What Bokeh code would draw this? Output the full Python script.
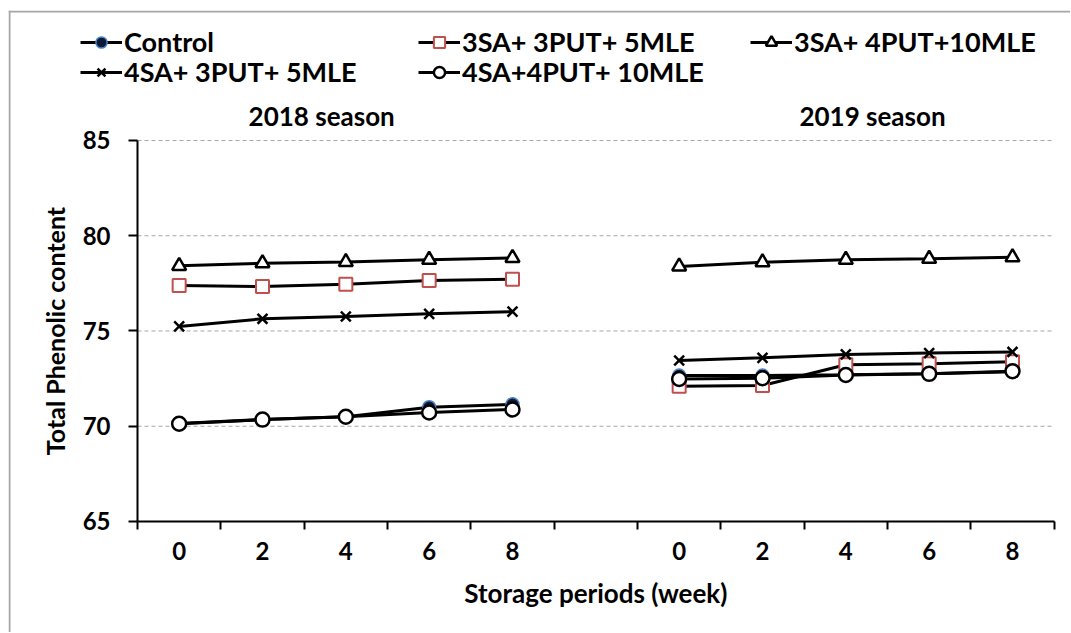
import math
from bokeh.plotting import figure
from bokeh.models import (FixedTicker, Legend, LegendItem, Label, Range1d, Span, ColumnDataSource)
from bokeh.embed import file_html
from bokeh.resources import INLINE

# ---------------- data ----------------
weeks = ["0", "2", "4", "6", "8"]
seasons = ["2018 season", "2019 season"]
series_names = ["Control", "3SA+ 3PUT+ 5MLE", "3SA+ 4PUT+10MLE",
                "4SA+ 3PUT+ 5MLE", "4SA+4PUT+ 10MLE"]

control_2018 = [70.15, 70.35, 70.50, 71.00, 71.15]
t1_2018 = [77.39, 77.33, 77.45, 77.65, 77.72]
t2_2018 = [78.42, 78.56, 78.62, 78.74, 78.84]
t3_2018 = [75.24, 75.64, 75.76, 75.90, 76.02]
t4_2018 = [70.13, 70.35, 70.50, 70.72, 70.88]

control_2019 = [72.66, 72.66, 72.70, 72.76, 72.86]
t1_2019 = [72.10, 72.14, 73.23, 73.28, 73.39]
t2_2019 = [78.39, 78.61, 78.74, 78.79, 78.87]
t3_2019 = [73.45, 73.59, 73.77, 73.84, 73.90]
t4_2019 = [72.48, 72.52, 72.69, 72.75, 72.89]

y_ticks = [65, 70, 75, 80, 85]

# ---------------- layout / style ----------------
FONT = "Lato"
n_slots = 2 * len(weeks) + 1
pos_2018 = [i + 0.5 for i in range(len(weeks))]
pos_2019 = [i + len(weeks) + 1.5 for i in range(len(weeks))]

X0, X1 = -1.548, 11.196
Y0, Y1 = 59.173, 91.824

p = figure(width=1070, height=632, output_backend="svg", toolbar_location=None,
           x_range=Range1d(X0, X1), y_range=Range1d(Y0, Y1),
           min_border_left=8, min_border_right=0, min_border_top=10,
           min_border_bottom=0)
p.outline_line_color = None
p.background_fill_color = "white"
p.border_fill_color = "white"

# y axis
p.yaxis.fixed_location = 0
p.yaxis.bounds = (65, 85)
p.yaxis.ticker = FixedTicker(ticks=y_ticks, minor_ticks=[])
p.yaxis.axis_line_color = "black"
p.yaxis.axis_line_width = 2
p.yaxis.major_tick_line_color = "black"
p.yaxis.major_tick_line_width = 2
p.yaxis.major_tick_out = 9
p.yaxis.major_tick_in = 0
p.yaxis.major_label_standoff = 18
p.yaxis.major_label_text_font = FONT
p.yaxis.major_label_text_font_style = "bold"
p.yaxis.major_label_text_font_size = "24px"
p.yaxis.major_label_text_color = "black"

# x axis
x_label_pos = pos_2018 + pos_2019
p.xaxis.fixed_location = 65
p.xaxis.bounds = (0, n_slots)
p.xaxis.ticker = FixedTicker(ticks=x_label_pos, minor_ticks=list(range(n_slots + 1)))
p.xaxis.major_label_overrides = {v: w for v, w in zip(x_label_pos, weeks + weeks)}
p.xaxis.axis_line_color = "black"
p.xaxis.axis_line_width = 2
p.xaxis.major_tick_out = 0
p.xaxis.major_tick_in = 0
p.xaxis.minor_tick_line_color = "black"
p.xaxis.minor_tick_line_width = 2
p.xaxis.minor_tick_out = 8
p.xaxis.minor_tick_in = 0
p.xaxis.major_label_standoff = 13
p.xaxis.major_label_text_font = FONT
p.xaxis.major_label_text_font_style = "bold"
p.xaxis.major_label_text_font_size = "24px"
p.xaxis.major_label_text_color = "black"

# grid (dashed horizontal lines spanning the category area only)
p.xgrid.grid_line_color = None
p.ygrid.grid_line_color = None
grid_y = y_ticks[1:]
p.segment(x0=[0] * len(grid_y), x1=[n_slots] * len(grid_y), y0=grid_y, y1=grid_y,
          line_color="#a6a6a6", line_dash="4 3", line_width=1, level="underlay")

# outer border (left / top edges of the chart box)
p.add_layout(Span(location=X0 + 0.012, dimension="height", line_color="#a6a6a6", line_width=2))
p.add_layout(Span(location=Y1 - 0.05, dimension="width", line_color="#a6a6a6", line_width=2))

# ---------------- series ----------------
series = [
    (control_2018, control_2019, dict(marker="circle", fill_color="#0b1a3a", line_color="#4f81bd", size=13, line_width=1.5)),
    (t1_2018, t1_2019, dict(marker="square", fill_color="white", line_color="#c0504d", size=13, line_width=2)),
    (t2_2018, t2_2019, dict(marker="triangle", fill_color="white", line_color="black", size=14, line_width=2.5)),
    (t3_2018, t3_2019, dict(marker="x", line_color="black", size=14, line_width=2.5)),
    (t4_2018, t4_2019, dict(marker="circle", fill_color="white", line_color="black", size=14, line_width=2.5)),
]

legend_renderers = []
for ys18, ys19, mk in series:
    rs = []
    for xs, ys in ((pos_2018, ys18), (pos_2019, ys19)):
        src = ColumnDataSource(dict(x=xs, y=ys))
        l = p.line("x", "y", source=src, line_color="black", line_width=3)
        s = p.scatter("x", "y", source=src, **mk)
        rs.append((l, s))
    legend_renderers.append(rs[0])

legend_locs = [(72, 574), (410, 574), (742, 574), (72, 544), (410, 544)]
for i, loc in enumerate(legend_locs):
    lg = Legend(items=[LegendItem(label=series_names[i], renderers=list(legend_renderers[i]))],
                location=loc, orientation="vertical",
                padding=0, margin=0, spacing=0, glyph_width=42, glyph_height=28,
                label_standoff=2,
                label_text_font=FONT, label_text_font_style="bold",
                label_text_font_size="27px", label_text_color="black",
                border_line_color=None, background_fill_alpha=0)
    p.add_layout(lg, "center")

# season titles
for x, name in ((2.21, seasons[0]), (8.82, seasons[1])):
    p.add_layout(Label(x=x, y=86.26, text=name, text_align="center", text_baseline="middle",
                       text_font=FONT, text_font_style="bold", text_font_size="26px",
                       text_color="black"))

# axis titles
p.add_layout(Label(x=-0.99, y=75, text="Total Phenolic content", angle=math.pi / 2,
                   text_align="center", text_baseline="middle",
                   text_font=FONT, text_font_style="bold", text_font_size="25px",
                   text_color="black"))
p.add_layout(Label(x=n_slots / 2, y=61.25, text="Storage periods (week)",
                   text_align="center", text_baseline="middle",
                   text_font=FONT, text_font_style="bold", text_font_size="26px",
                   text_color="black"))

open("out.html", "w").write(file_html(p, INLINE))
